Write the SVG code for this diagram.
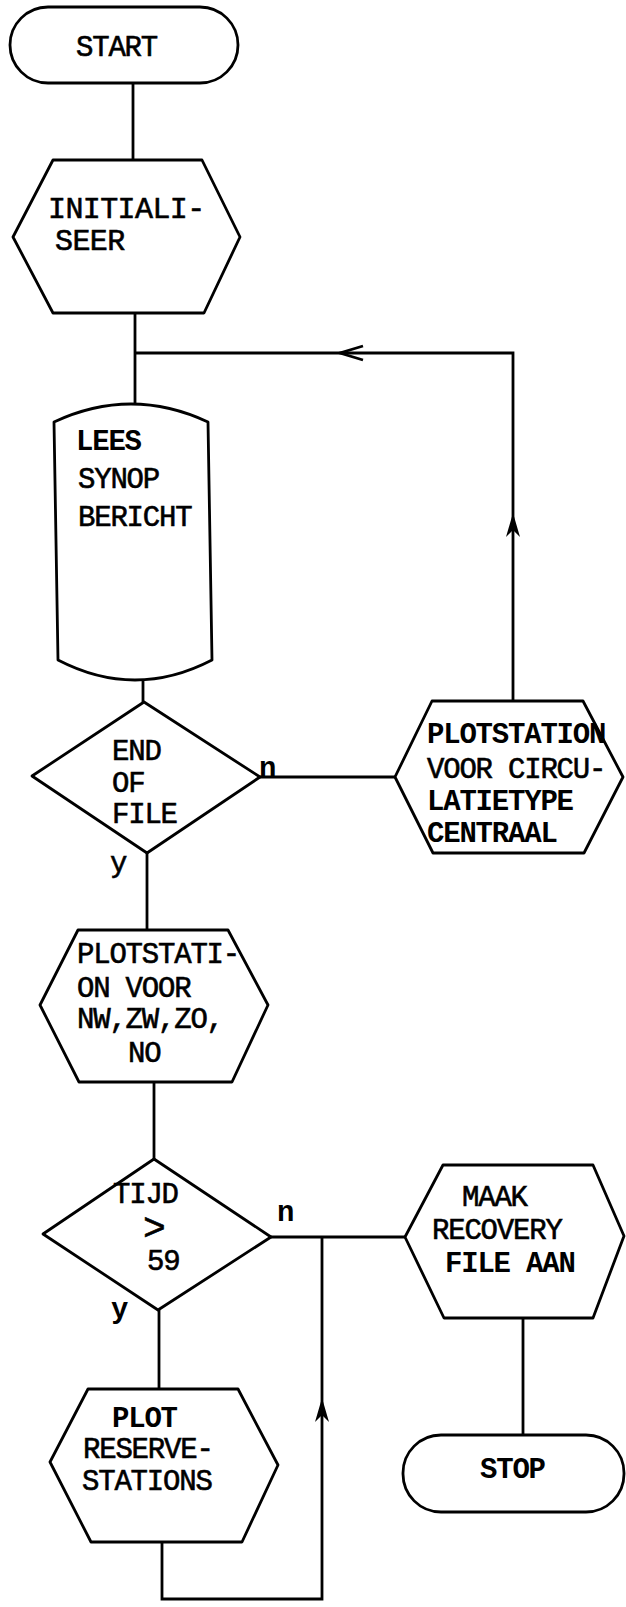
<svg xmlns="http://www.w3.org/2000/svg" xmlns:xlink="http://www.w3.org/1999/xlink" width="626" height="1607" viewBox="0 0 626 1607">
<style>
.s{fill:#fff;stroke:#000;stroke-width:2.8;stroke-linejoin:round}
.c{fill:none;stroke:#000;stroke-width:2.8}
text{font-family:"Liberation Mono","Courier New",monospace;font-size:29px;letter-spacing:-1.2px;fill:#000}
.r{stroke:#000;stroke-width:0.6}
.b{font-weight:bold}
.lg{font-size:30px;letter-spacing:-0.6px}
</style>
<defs>
<path id="up" d="M0,0 L-7,24 L0,17 L7,24 Z" fill="#000"/>
</defs>
<rect width="626" height="1607" fill="#fff"/>
<g id="connectors">
<path class="c" d="M133,83 V160"/>
<path class="c" d="M135,313 V404"/>
<path class="c" d="M513,701 V353 H135"/>
<path class="c" d="M363,346 L340,353 L363,360"/>
<use xlink:href="#up" x="513" y="513"/>
<path class="c" d="M143,680 V702"/>
<path class="c" d="M260,777 H395"/>
<path class="c" d="M147,853 V930"/>
<path class="c" d="M154,1082 V1159"/>
<path class="c" d="M271,1237 H405"/>
<path class="c" d="M523,1318 V1435"/>
<path class="c" d="M159,1310 V1389"/>
<path class="c" d="M162,1542 V1599 H322 V1237"/>
<use xlink:href="#up" x="322" y="1398"/>
</g>
<g id="start">
<rect class="s" x="10" y="7" width="228" height="76" rx="38"/>
<text class="r" x="76" y="56">START</text>
</g>
<g id="initialiseer">
<polygon class="s" points="53,160 202,160 240,237 204,313 53,313 13,237"/>
<text class="r lg" x="48" y="218">INITIALI-</text>
<text class="r lg" x="55" y="250">SEER</text>
</g>
<g id="lees">
<path class="s" d="M54,422 Q131,386 208,422 L212,660 Q135,700 58,660 Z"/>
<text class="b" x="76" y="450">LEES</text>
<text class="r" x="78" y="488">SYNOP</text>
<text class="r" x="78" y="526">BERICHT</text>
</g>
<g id="eof">
<polygon class="s" points="144,702 260,777 147,853 32,776"/>
<text class="r" x="112" y="760">END</text>
<text class="r" x="112" y="792">OF</text>
<text class="r" x="112" y="823">FILE</text>
<text class="b" x="259" y="777">n</text>
<text class="r" x="110" y="872">y</text>
</g>
<g id="plot-centraal">
<polygon class="s" points="432,701 583,701 623,777 584,853 433,853 395,777"/>
<text class="b" x="427" y="743">PLOTSTATION</text>
<text class="r" x="427" y="778">VOOR CIRCU-</text>
<text class="b" x="427" y="810">LATIETYPE</text>
<text class="b" x="427" y="842">CENTRAAL</text>
</g>
<g id="plot-hoeken">
<polygon class="s" points="78,930 228,930 268,1005 232,1082 79,1082 40,1005"/>
<text class="r" x="77" y="963">PLOTSTATI-</text>
<text class="r" x="77" y="997">ON VOOR</text>
<text class="r" x="77" y="1028">NW,ZW,ZO,</text>
<text class="r" x="128" y="1062">NO</text>
</g>
<g id="tijd">
<polygon class="s" points="154,1159 271,1237 158,1310 43,1234"/>
<text class="r" x="113" y="1203">TIJD</text>
<text class="r" x="143" y="1240" style="font-size:38px">&gt;</text>
<text class="r" x="147" y="1270">59</text>
<text class="b" x="277" y="1221">n</text>
<text class="b" x="111" y="1318">y</text>
</g>
<g id="recovery">
<polygon class="s" points="443,1165 593,1165 624,1236 593,1318 444,1318 405,1237"/>
<text class="r" x="462" y="1206">MAAK</text>
<text class="r" x="432" y="1239">RECOVERY</text>
<text class="b" x="445" y="1272">FILE AAN</text>
</g>
<g id="reserve">
<polygon class="s" points="88,1389 238,1389 278,1465 242,1542 91,1542 50,1462"/>
<text class="b" x="112" y="1427">PLOT</text>
<text class="r" x="83" y="1458">RESERVE-</text>
<text class="r" x="82" y="1490">STATIONS</text>
</g>
<g id="stop">
<rect class="s" x="403" y="1435" width="221" height="77" rx="38"/>
<text class="b" x="480" y="1478">STOP</text>
</g>
</svg>
